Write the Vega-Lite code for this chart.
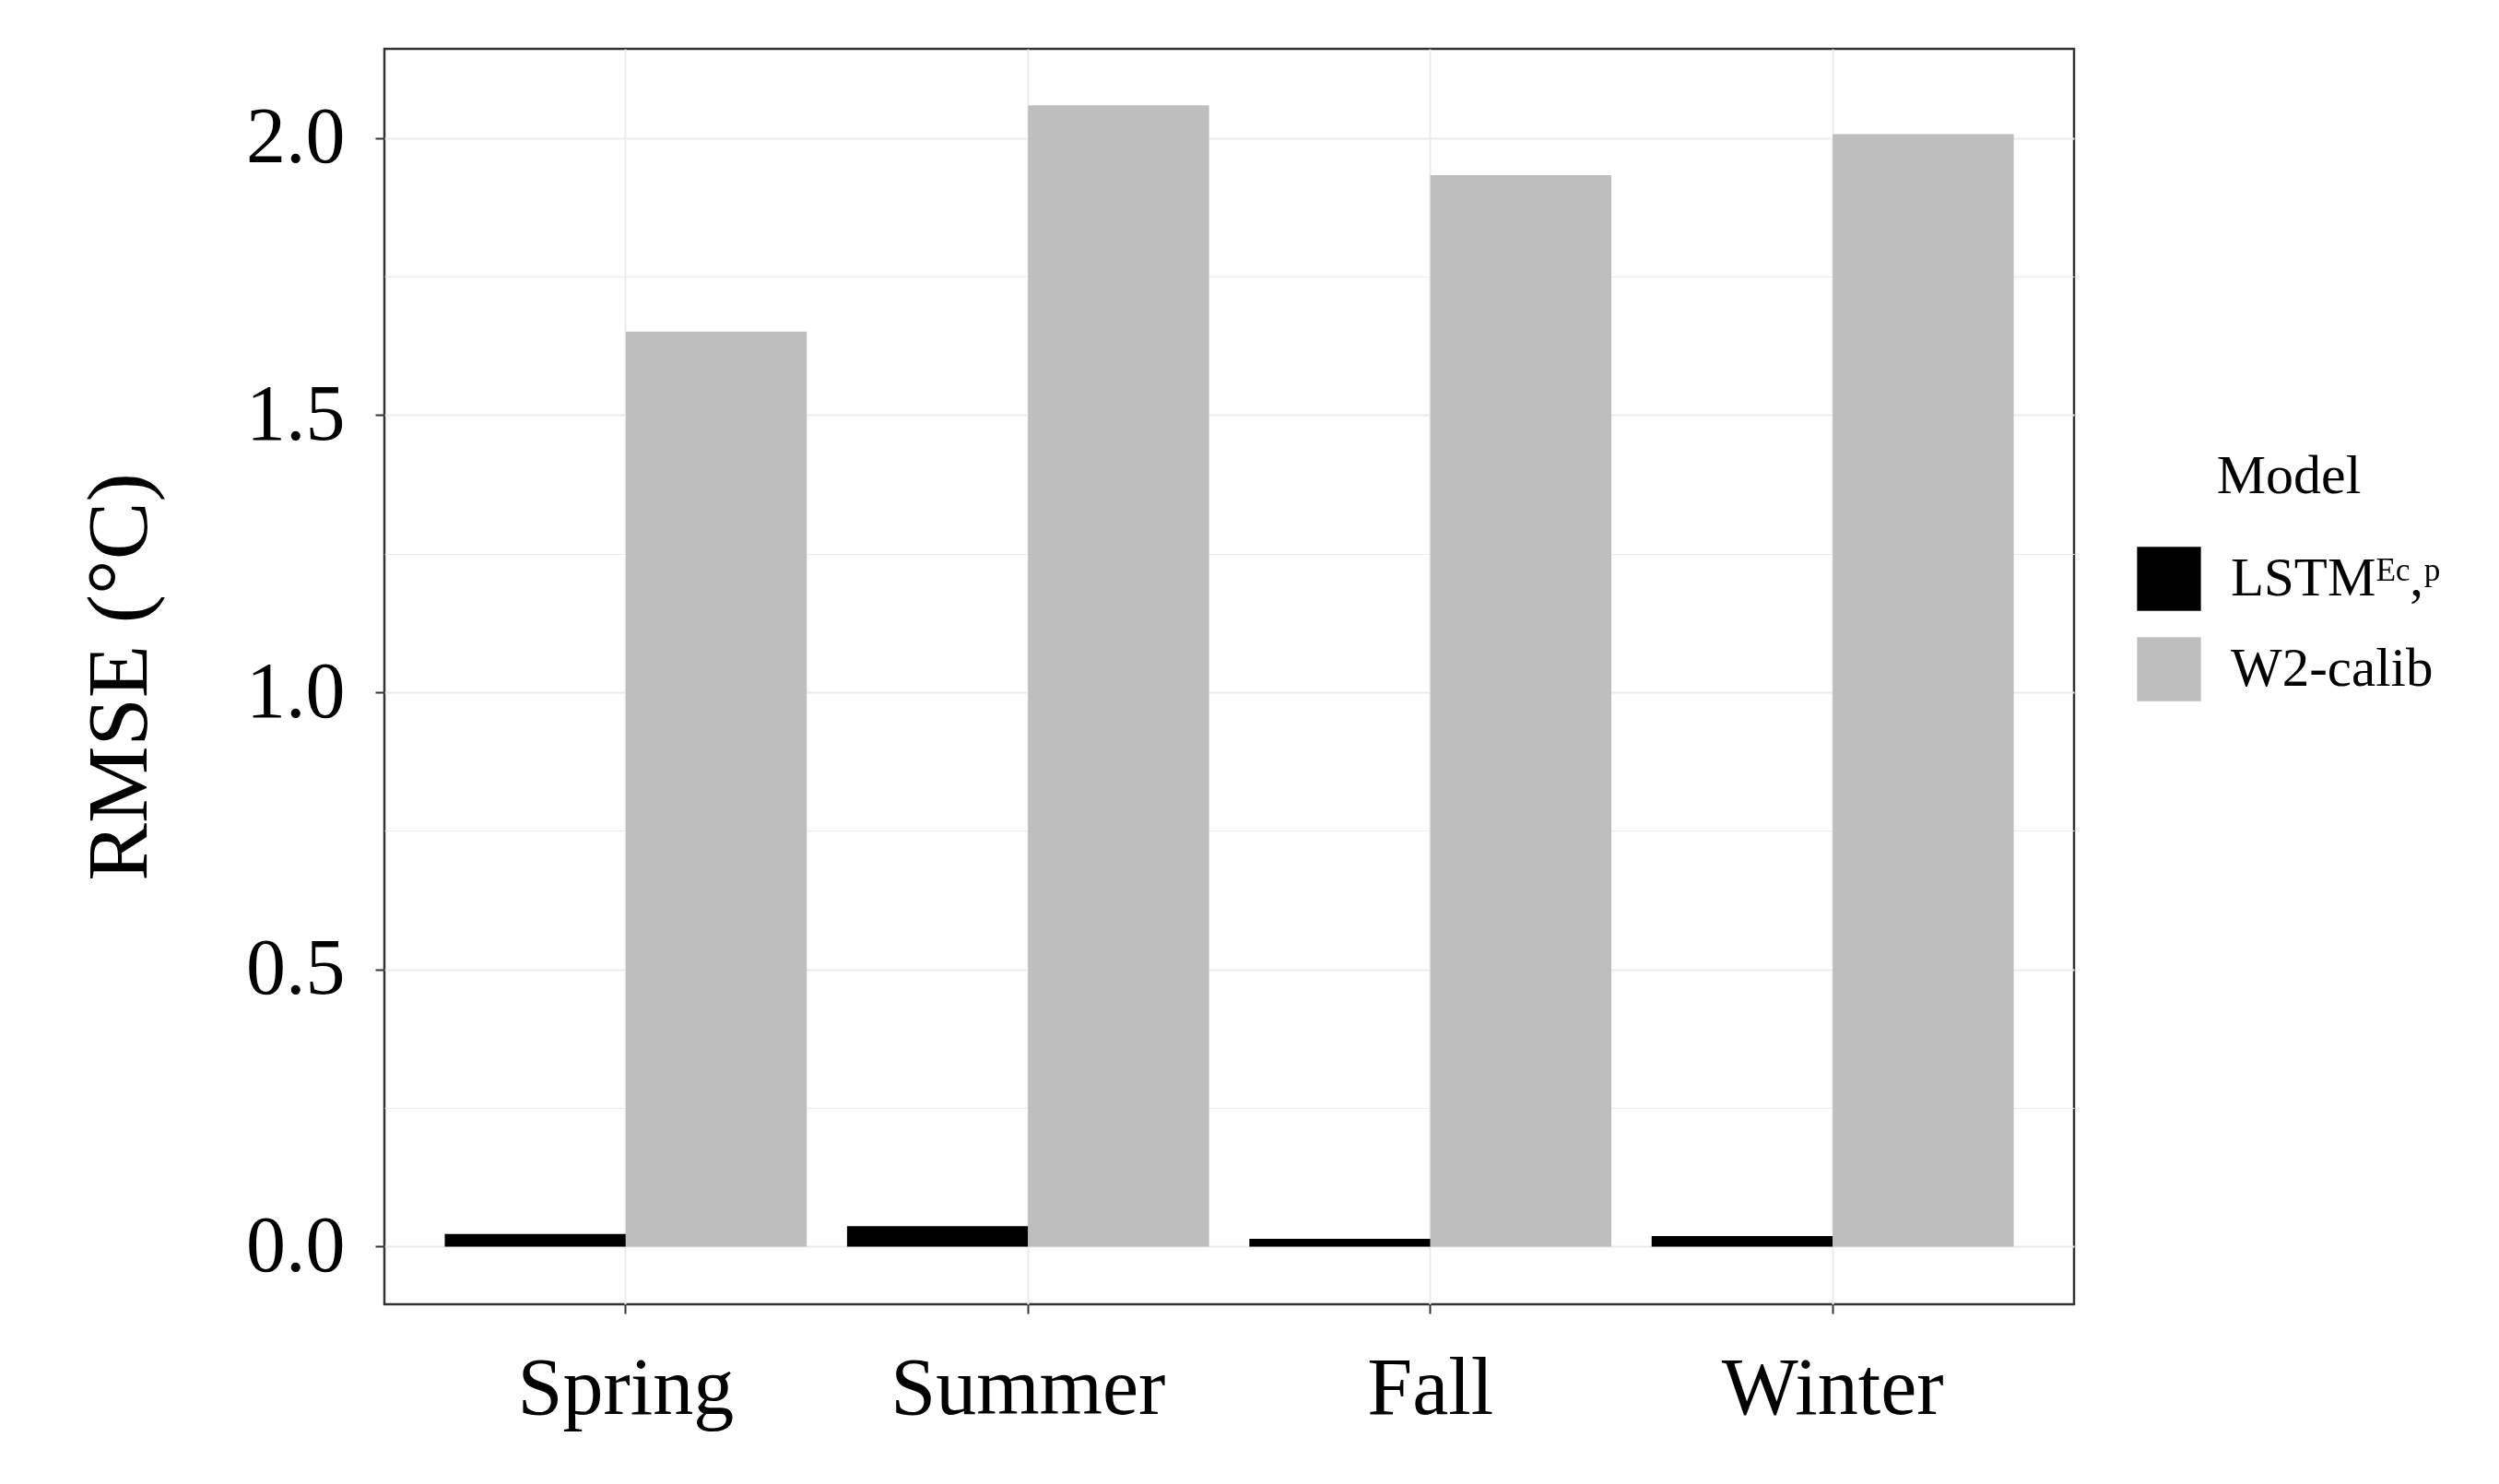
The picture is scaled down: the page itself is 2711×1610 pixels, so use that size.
{
  "$schema": "https://vega.github.io/schema/vega-lite/v6.json",
  "autosize": {"type": "none"},
  "padding": {"left": 417, "top": 53, "right": 461, "bottom": 195},
  "width": 1833,
  "height": 1362,
  "background": "white",
  "data": {
    "values": [
      {"Season": "Spring", "Model": "LSTMᴱᶜ,ᵖ", "RMSE": 0.023},
      {"Season": "Spring", "Model": "W2-calib", "RMSE": 1.651},
      {"Season": "Summer", "Model": "LSTMᴱᶜ,ᵖ", "RMSE": 0.037},
      {"Season": "Summer", "Model": "W2-calib", "RMSE": 2.059},
      {"Season": "Fall", "Model": "LSTMᴱᶜ,ᵖ", "RMSE": 0.014},
      {"Season": "Fall", "Model": "W2-calib", "RMSE": 1.933},
      {"Season": "Winter", "Model": "LSTMᴱᶜ,ᵖ", "RMSE": 0.019},
      {"Season": "Winter", "Model": "W2-calib", "RMSE": 2.007}
    ]
  },
  "mark": {"type": "bar", "stroke": null},
  "encoding": {
    "x": {
      "field": "Season",
      "type": "nominal",
      "sort": ["Spring", "Summer", "Fall", "Winter"],
      "scale": {"paddingInner": 0.1, "paddingOuter": 0.15},
      "axis": {
        "title": null,
        "labelAngle": 0,
        "labelFont": "Liberation Serif",
        "labelFontSize": 88,
        "labelColor": "black",
        "labelPadding": 38,
        "labelLimit": 0,
        "labelOverlap": false,
        "tickSize": 10,
        "tickWidth": 2,
        "tickColor": "#333333",
        "domain": false,
        "grid": true,
        "gridColor": "#EBEBEB",
        "gridWidth": 2,
        "bandPosition": 0.5
      }
    },
    "xOffset": {
      "field": "Model",
      "type": "nominal",
      "scale": {"paddingInner": 0, "paddingOuter": 0}
    },
    "y": {
      "field": "RMSE",
      "type": "quantitative",
      "stack": null,
      "scale": {"domain": [-0.104, 2.161], "nice": false, "zero": false},
      "axis": {
        "title": "RMSE (°C)",
        "titleFont": "Liberation Serif",
        "titleFontSize": 94,
        "titleFontWeight": "normal",
        "titleColor": "black",
        "titlePadding": 88,
        "values": [0, 0.25, 0.5, 0.75, 1, 1.25, 1.5, 1.75, 2],
        "labelExpr": "datum.value % 0.5 === 0 ? format(datum.value, '.1f') : ''",
        "labelFont": "Liberation Serif",
        "labelFontSize": 86,
        "labelColor": "black",
        "labelPadding": 33,
        "tickSize": 10,
        "tickWidth": 2,
        "tickColor": {"condition": {"test": "datum.value % 0.5 === 0", "value": "#333333"}, "value": "transparent"},
        "domain": false,
        "grid": true,
        "gridColor": "#EBEBEB",
        "gridWidth": {"condition": {"test": "datum.value % 0.5 === 0", "value": 2}, "value": 1}
      }
    },
    "y2": {"datum": 0},
    "color": {
      "field": "Model",
      "type": "nominal",
      "scale": {"domain": ["LSTMᴱᶜ,ᵖ", "W2-calib"], "range": ["#000000", "#BEBEBE"]},
      "legend": {
        "title": "Model",
        "orient": "none",
        "legendX": 1901,
        "legendY": 435,
        "padding": 0,
        "titleFont": "Liberation Serif",
        "titleFontSize": 60,
        "titleFontWeight": "normal",
        "titleColor": "black",
        "titleAnchor": "middle",
        "titlePadding": 45,
        "labelFont": "Liberation Serif",
        "labelFontSize": 59,
        "labelColor": "black",
        "labelOffset": 32,
        "labelLimit": 600,
        "symbolType": "square",
        "symbolSize": 4800,
        "symbolStrokeWidth": 0,
        "symbolOpacity": 1,
        "rowPadding": 28
      }
    }
  },
  "config": {
    "view": {"stroke": "#333333", "strokeWidth": 2.5}
  }
}
